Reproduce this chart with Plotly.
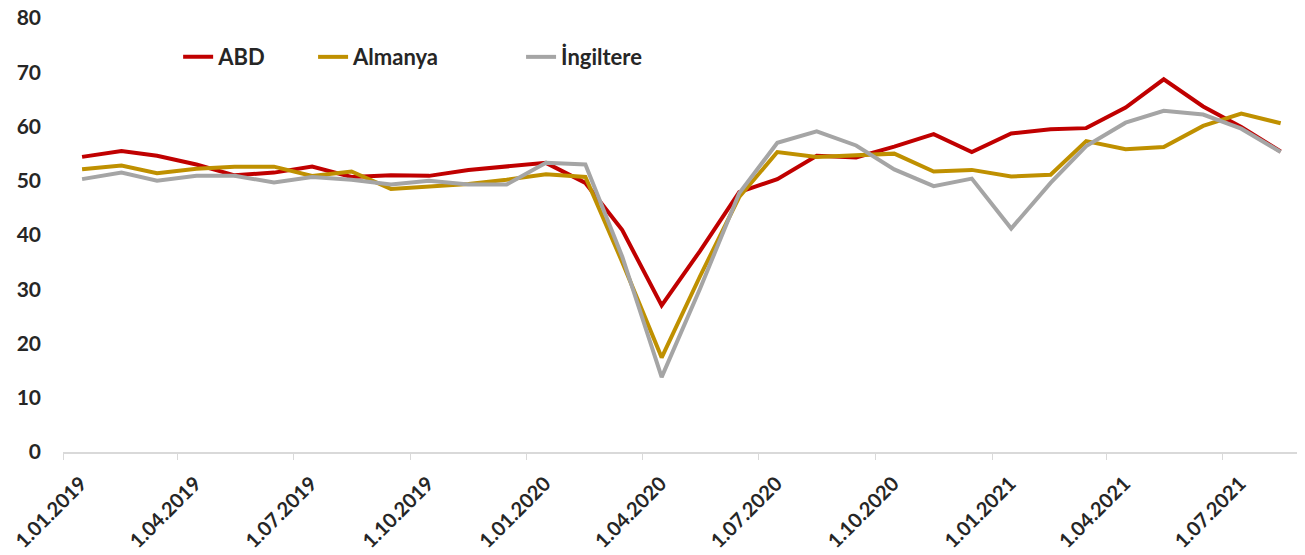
import pandas as pd
import plotly.graph_objects as go

months = pd.date_range("2019-01-01", "2021-08-01", freq="MS")
mid = months + pd.Timedelta(days=15)

abd = [54.4, 55.5, 54.6, 53.0, 51.0, 51.5, 52.6, 50.7, 51.0, 50.9, 52.0, 52.7,
       53.3, 49.6, 40.9, 27.0, 37.0, 47.9, 50.3, 54.6, 54.3, 56.3, 58.6, 55.3,
       58.7, 59.5, 59.7, 63.5, 68.7, 63.7, 59.9, 55.4]
almanya = [52.1, 52.8, 51.4, 52.2, 52.6, 52.6, 50.9, 51.7, 48.5, 48.9, 49.4, 50.2,
           51.2, 50.7, 35.0, 17.4, 32.3, 47.0, 55.3, 54.4, 54.7, 55.0, 51.7, 52.0,
           50.8, 51.1, 57.3, 55.8, 56.2, 60.1, 62.4, 60.6]
ingiltere = [50.3, 51.5, 50.0, 50.9, 50.9, 49.7, 50.7, 50.2, 49.3, 50.0, 49.3, 49.3,
             53.3, 53.0, 36.0, 13.8, 30.0, 47.7, 57.0, 59.1, 56.5, 52.1, 49.0, 50.4,
             41.2, 49.6, 56.4, 60.7, 62.9, 62.2, 59.6, 55.3]

tick_dates = pd.date_range("2019-01-01", "2021-07-01", freq="3MS")
tick_text = [f"{d.day}.{d.month:02d}.{d.year}" for d in tick_dates]

names = ["ABD", "Almanya", "İngiltere"]
colors = ["#C00000", "#BF9000", "#A5A5A5"]
series = [abd, almanya, ingiltere]
legend_ids = ["legend", "legend2", "legend3"]
legend_x = [0.093, 0.202, 0.370]

font_family = "Lato, 'Open Sans', sans-serif"
txt = "#262626"

fig = go.Figure()
for n, c, s, lg in zip(names, colors, series, legend_ids):
    fig.add_trace(go.Scatter(x=mid, y=s, name=n, mode="lines", legend=lg,
                             line=dict(color=c, width=4)))

def legend_cfg(x):
    return dict(orientation="h", x=x, y=0.91, xanchor="left", yanchor="middle",
                font=dict(size=22, family=font_family, weight="bold", color=txt),
                bgcolor="rgba(0,0,0,0)", borderwidth=0)

fig.update_layout(
    width=1305, height=555,
    margin=dict(l=55, r=12, t=10, b=111),
    paper_bgcolor="white", plot_bgcolor="white",
    font=dict(family=font_family, color=txt),
    showlegend=True,
    legend=legend_cfg(legend_x[0]),
    legend2=legend_cfg(legend_x[1]),
    legend3=legend_cfg(legend_x[2]),
    xaxis=dict(type="date", range=["2019-01-01", "2021-09-01"],
               tickmode="array", tickvals=tick_dates, ticktext=tick_text,
               tickangle=-45, showgrid=False, zeroline=False, automargin=False,
               showline=True, linecolor="#D9D9D9", linewidth=2,
               ticks="outside", ticklen=6, tickcolor="#D9D9D9", tickwidth=1,
               ticklabelshift=18, ticklabelstandoff=4, ticklabeloverflow="allow",
               tickfont=dict(size=20, family=font_family, weight="bold", color=txt)),
    yaxis=dict(range=[0, 80], dtick=10, showgrid=False, zeroline=False, automargin=False,
               showline=False, ticks="", ticklabelstandoff=21, ticklabeloverflow="allow",
               tickfont=dict(size=21, family=font_family, weight="bold", color=txt)),
)

fig.write_html("out.html")
